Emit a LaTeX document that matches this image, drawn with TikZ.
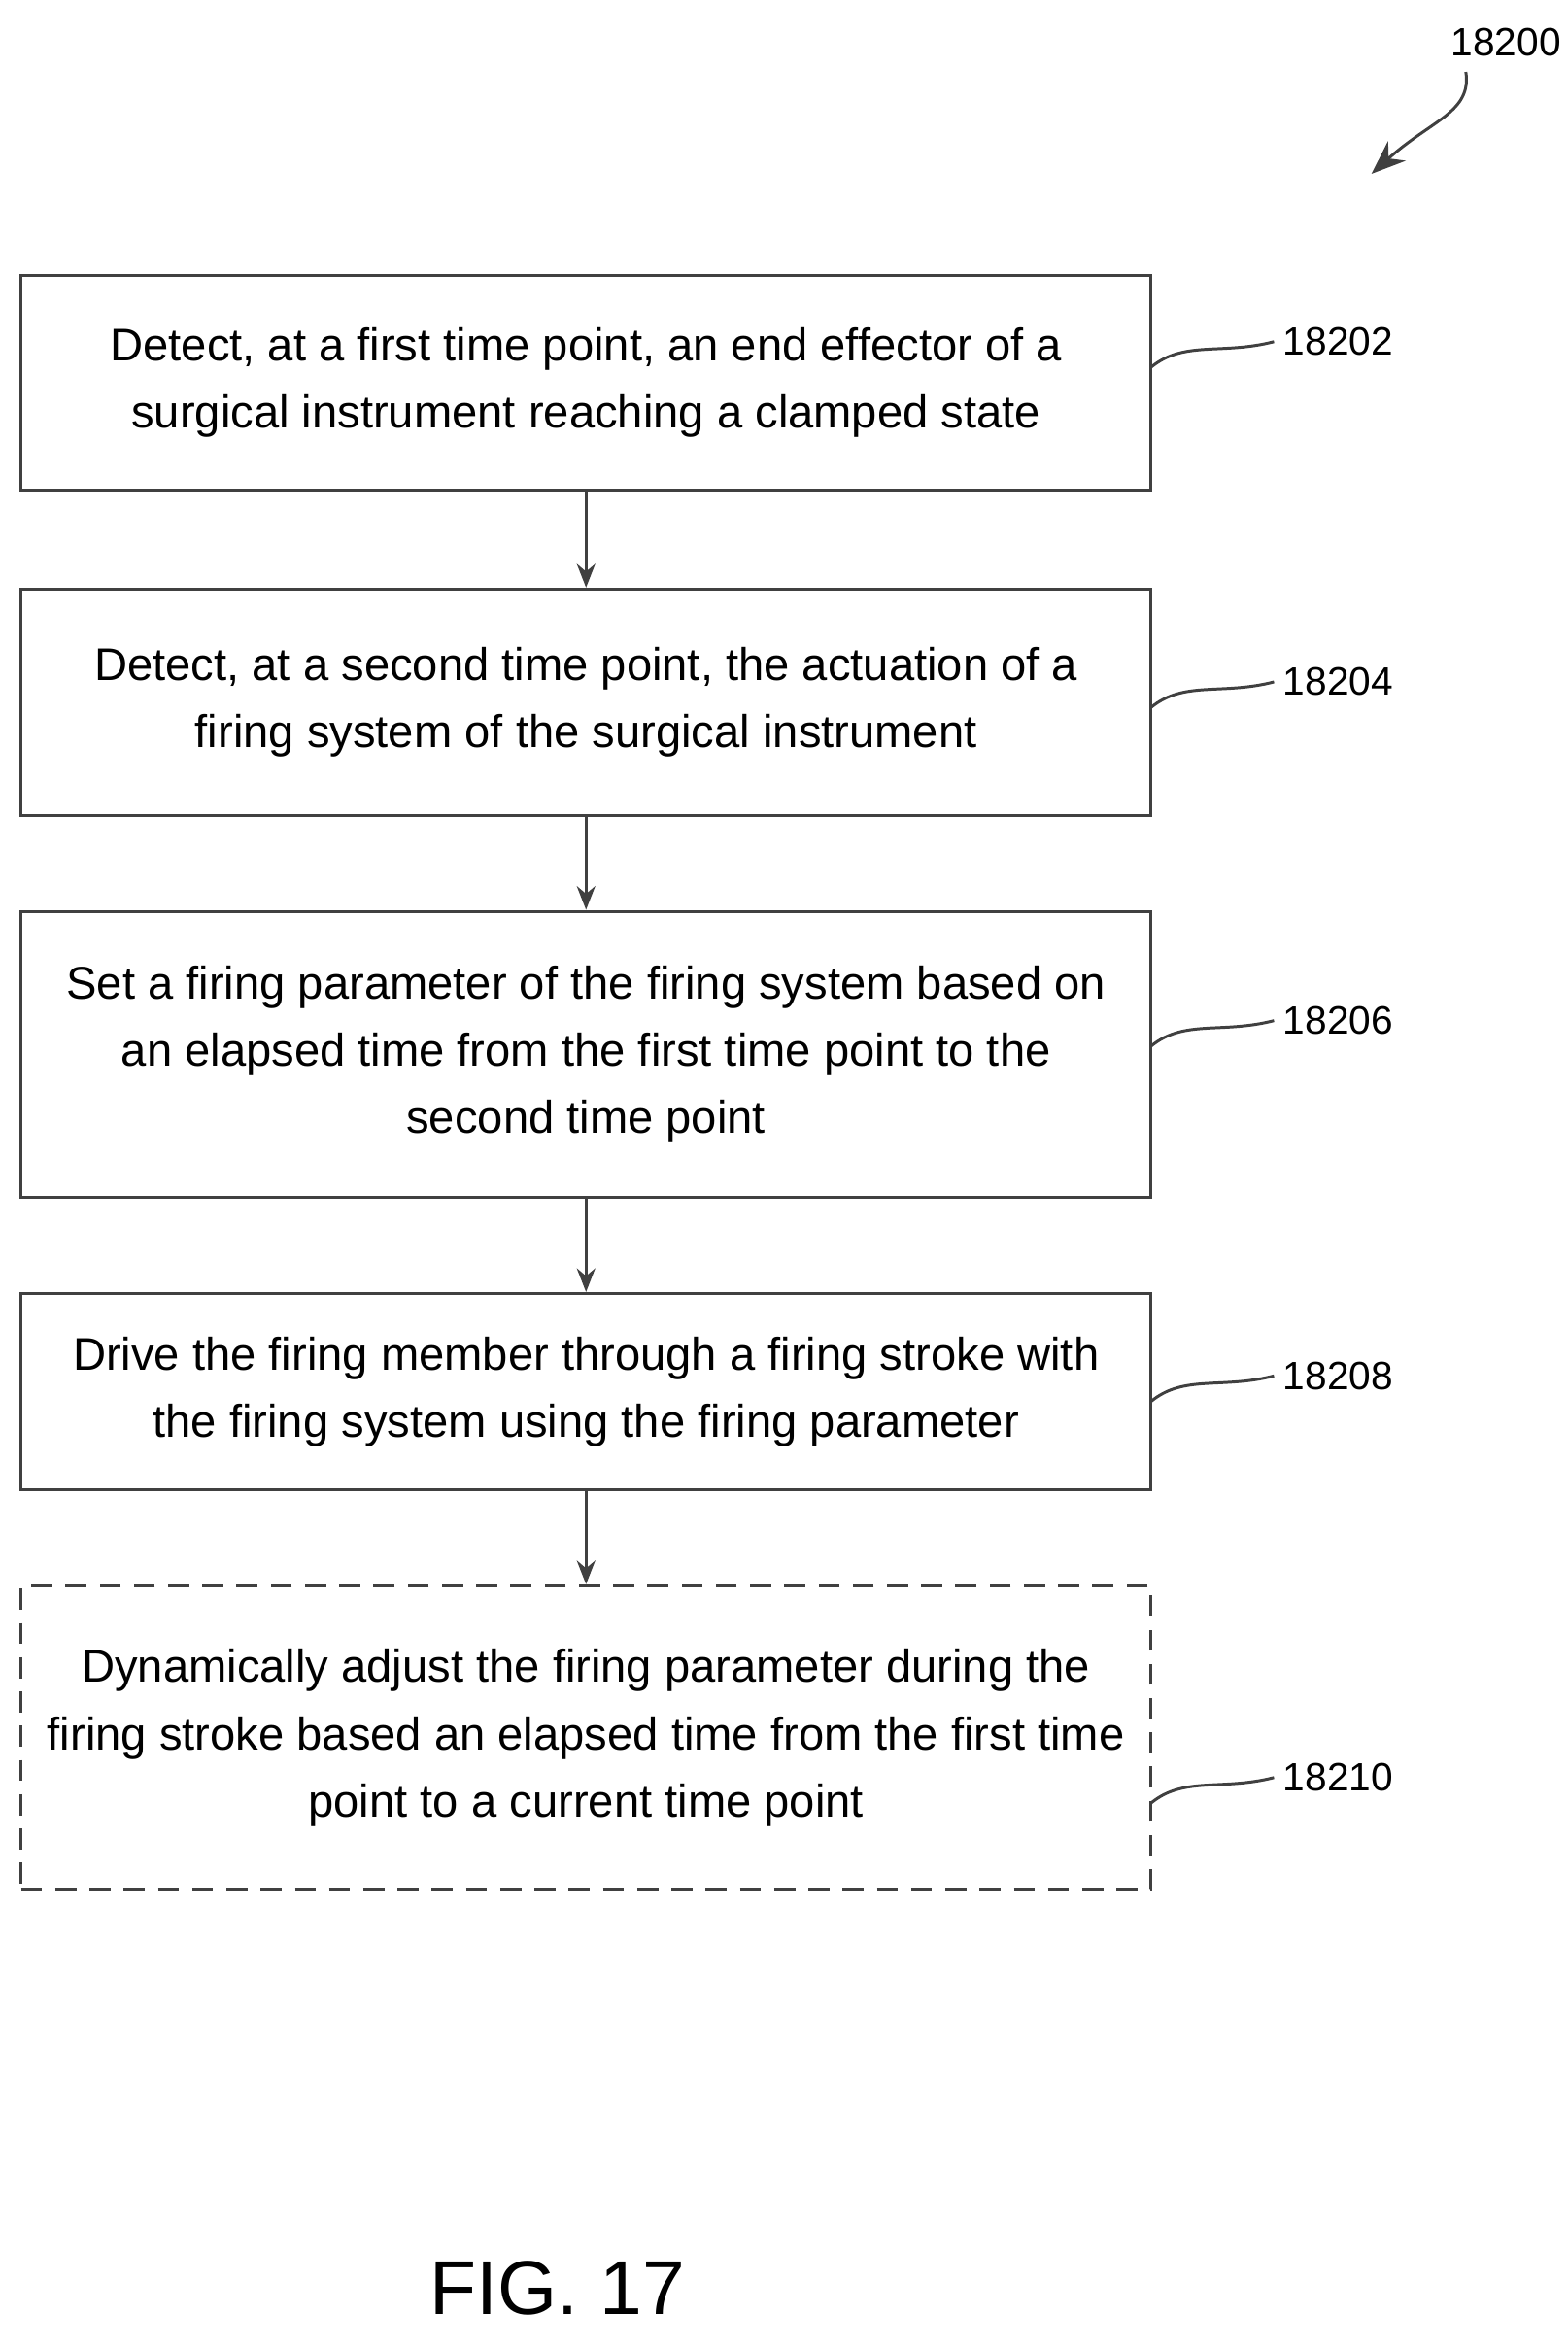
\documentclass[tikz,border=0pt]{standalone}
\usepackage{fontspec}
\setmainfont{Liberation Sans}
\usetikzlibrary{arrows.meta}
\begin{document}
\begin{tikzpicture}[x=0.02cm,y=-0.02cm,
  box/.style={draw=black!75,line width=1.1pt,minimum width=754*0.02cm,align=center,font=\fontsize{17.4}{25.5}\selectfont,inner sep=0pt},
  lab/.style={font=\fontsize{15}{18}\selectfont,anchor=west},
  lead/.style={draw=black!75,line width=1.1pt},
  arr/.style={draw=black!75,line width=1.1pt,-{Stealth[length=9pt,width=7pt]}}]
\useasboundingbox (0,0) rectangle (1046,1566);
\node[box,minimum height=143*0.02cm] (b1) at (391,255.5) {Detect, at a first time point, an end effector of a\\surgical instrument reaching a clamped state};
\node[box,minimum height=151*0.02cm] (b2) at (391,468.5) {Detect, at a second time point, the actuation of a\\firing system of the surgical instrument};
\node[box,minimum height=191*0.02cm] (b3) at (391,703.5) {Set a firing parameter of the firing system based on\\an elapsed time from the first time point to the\\second time point};
\node[box,minimum height=131*0.02cm] (b4) at (391,928.5) {Drive the firing member through a firing stroke with\\the firing system using the firing parameter};
\node[box,dashed,dash pattern=on 8pt off 5pt,minimum height=203*0.02cm] (b5) at (391,1159.5) {Dynamically adjust the firing parameter during the\\firing stroke based an elapsed time from the first time\\point to a current time point};
\draw[arr] (b1) -- (b2);
\draw[arr] (b2) -- (b3);
\draw[arr] (b3) -- (b4);
\draw[arr] (b4) -- (b5);
\node[lab] (l1) at (850,228) {18202};
\node[lab] (l2) at (850,455) {18204};
\node[lab] (l3) at (850,681) {18206};
\node[lab] (l4) at (850,918) {18208};
\node[lab] (l5) at (850,1186) {18210};
\foreach \i/\y in {1/245,2/472,3/698,4/935,5/1203}{
  \draw[lead] (768,\y) .. controls (790,\y-18) and (815,\y-8) .. (l\i.west);
}
\node[lab] (top) at (962,28) {18200};
\coordinate (tip) at (915,116);
\draw[draw=black!75,line width=1.1pt,-{Stealth[length=13pt,width=10pt]}] (978,48) .. controls (982,75) and (955,80) .. (tip);
\node[font=\fontsize{29}{32}\selectfont] (fig) at (372,1527) {FIG. 17};
\end{tikzpicture}
\end{document}
